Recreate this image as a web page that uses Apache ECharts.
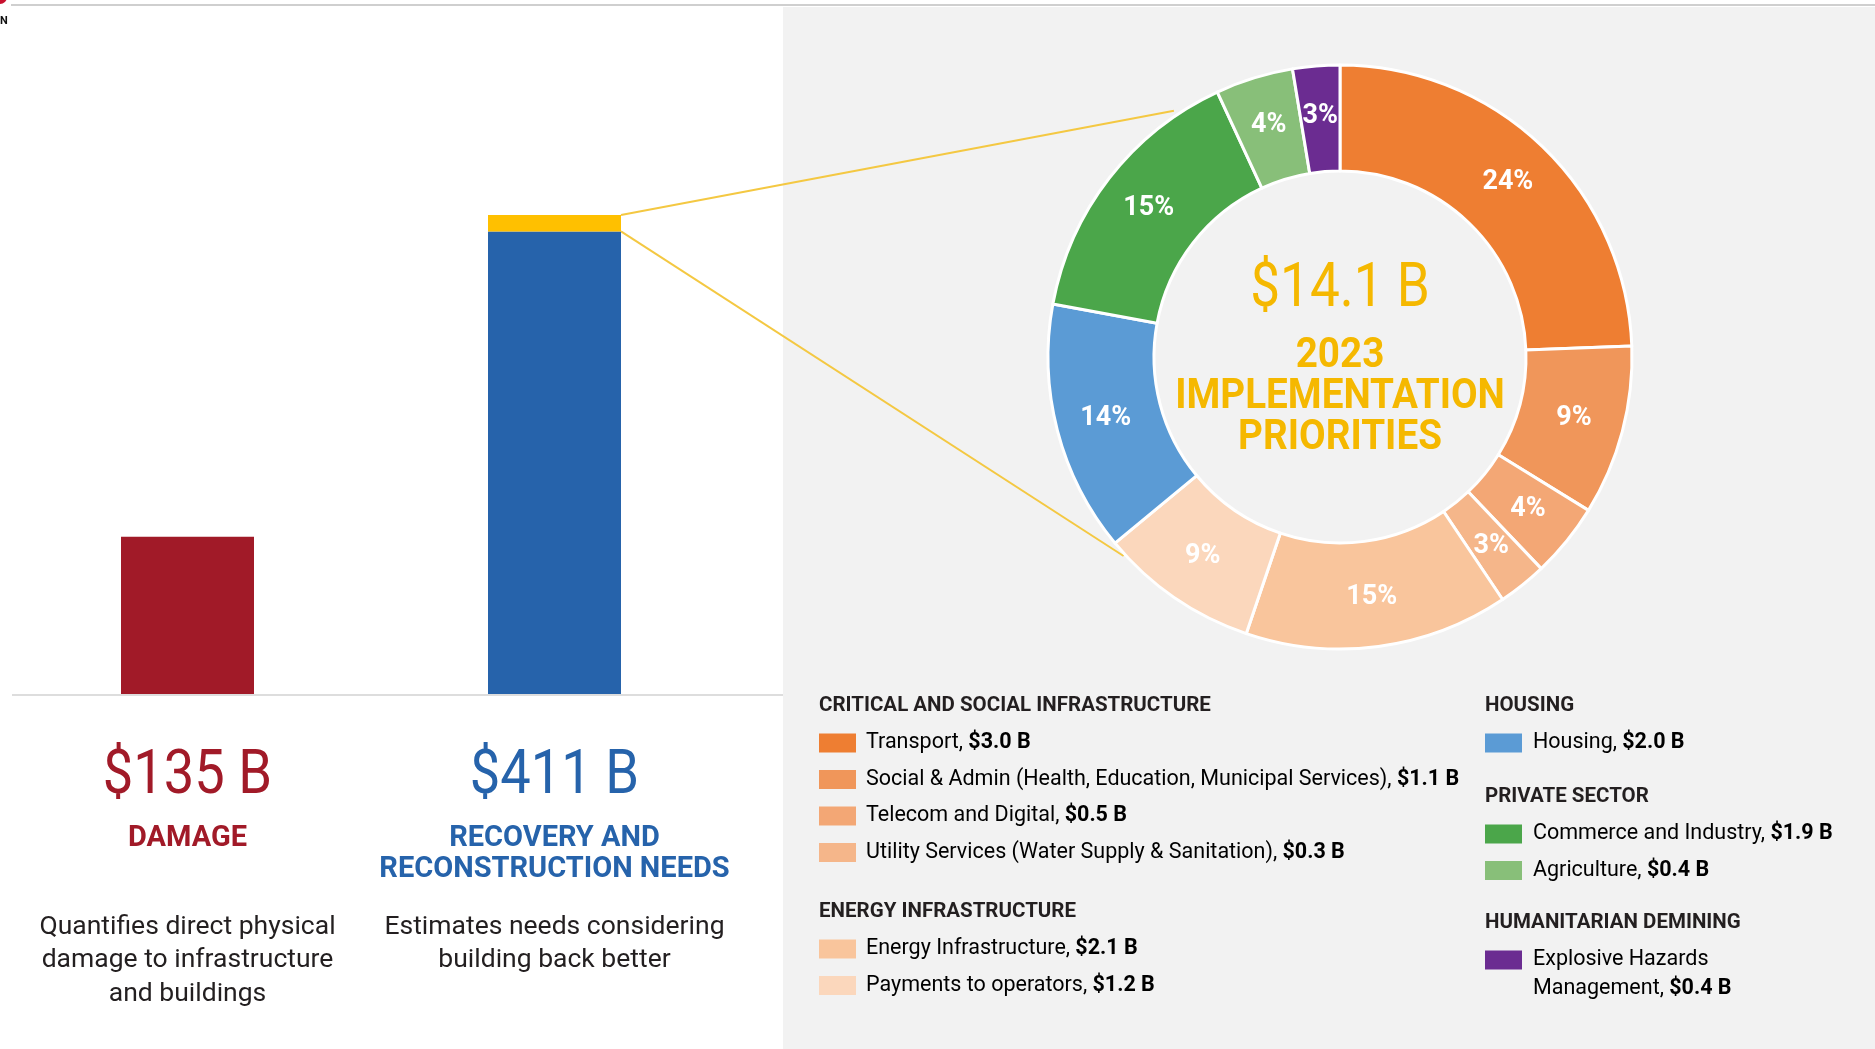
<!DOCTYPE html>
<html>
<head>
<meta charset="utf-8">
<script src="https://cdn.jsdelivr.net/npm/echarts@6/dist/echarts.min.js"></script>
<style>
  html, body { margin: 0; padding: 0; background: #fff; }
  #main { width: 1875px; height: 1049px; }
</style>
</head>
<body>
<div id="main"></div>
<script>
// ---- data ----
const barCategories = ['Damage', 'Recovery and Reconstruction Needs'];
const barValues = [135, 411];
const barCaptions = [['DAMAGE'], ['RECOVERY AND', 'RECONSTRUCTION NEEDS']];
const barNotes = [
    ['Quantifies direct physical', 'damage to infrastructure', 'and buildings'],
    ['Estimates needs considering', 'building back better']
];
const priorityTotal = 14.1;
const priorityTitle = ['2023', 'IMPLEMENTATION', 'PRIORITIES'];

const sliceNames = [
    'Transport',
    'Social & Admin (Health, Education, Municipal Services)',
    'Telecom and Digital',
    'Utility Services (Water Supply & Sanitation)',
    'Energy Infrastructure',
    'Payments to operators',
    'Housing',
    'Commerce and Industry',
    'Agriculture',
    'Explosive Hazards\nManagement'
];
// shares (%); labels show them rounded
const sliceShares = [24.4, 9.4, 4.1, 2.7, 14.6, 8.8, 13.9, 15.2, 4.3, 2.6];
const sliceAmounts = [3.0, 1.1, 0.5, 0.3, 2.1, 1.2, 2.0, 1.9, 0.4, 0.4];
const sliceGroups = [
    'CRITICAL AND SOCIAL INFRASTRUCTURE', 'CRITICAL AND SOCIAL INFRASTRUCTURE',
    'CRITICAL AND SOCIAL INFRASTRUCTURE', 'CRITICAL AND SOCIAL INFRASTRUCTURE',
    'ENERGY INFRASTRUCTURE', 'ENERGY INFRASTRUCTURE',
    'HOUSING',
    'PRIVATE SECTOR', 'PRIVATE SECTOR',
    'HUMANITARIAN DEMINING'
];

// ---- styles ----
const palette = ['#EE7E32', '#F0965A', '#F3A775', '#F5B68A', '#F9C59C', '#FBD7BC',
                 '#5B9BD5', '#4BA64A', '#88BF79', '#6B2C91'];
const RED = '#A11A28', BLUE = '#2663AB', YELLOW = '#FFC000', GOLD = '#F5B800';
const DARK = '#231F20';
const FONT = 'Roboto, "Noto Sans", sans-serif';

// ---- layout ----
const PANEL_X = 783;
const PIE_CENTER = [1340, 357];
const PIE_RADIUS = [186, 292];
const BAR_WIDTH = 133;
const connectorEnds = [{ angle: 326, r: 297 }, { angle: 227.4, r: 294 }];
const groupLayout = {
    'CRITICAL AND SOCIAL INFRASTRUCTURE': { col: 0, y: 706 },
    'ENERGY INFRASTRUCTURE': { col: 0, y: 912 },
    'HOUSING': { col: 1, y: 706 },
    'PRIVATE SECTOR': { col: 1, y: 797 },
    'HUMANITARIAN DEMINING': { col: 1, y: 923 }
};
const columns = [{ swatchX: 819, textX: 866 }, { swatchX: 1485, textX: 1533 }];

const chart = echarts.init(document.getElementById('main'));

chart.setOption({
    animation: false,
    backgroundColor: '#fff',
    grid: { left: 4, width: 734, top: 215, bottom: 355 },
    xAxis: { type: 'category', data: barCategories, show: false },
    yAxis: { type: 'value', min: 0, max: barValues[1], show: false },
    series: [
        {
            type: 'bar', stack: 'total', barWidth: BAR_WIDTH, silent: true,
            data: [
                { value: barValues[0], itemStyle: { color: RED } },
                { value: +(barValues[1] - priorityTotal).toFixed(1), itemStyle: { color: BLUE } }
            ]
        },
        {
            type: 'bar', stack: 'total', barWidth: BAR_WIDTH, silent: true,
            data: ['-', priorityTotal],
            itemStyle: { color: YELLOW }
        },
        {
            type: 'pie', center: PIE_CENTER, radius: PIE_RADIUS,
            startAngle: 90, clockwise: true, silent: true, z: 5,
            itemStyle: { borderColor: '#fff', borderWidth: 3 },
            label: {
                position: 'inside', color: '#fff',
                formatter: (p) => Math.round(p.value) + '%',
                fontFamily: FONT, fontWeight: 'bold', fontSize: 27
            },
            labelLine: { show: false },
            data: sliceNames.map((n, i) => ({ name: n, value: sliceShares[i], itemStyle: { color: palette[i] } }))
        }
    ]
});

// positions from the library's scales
const barTopPx = chart.convertToPixel({ gridIndex: 0 }, [1, barValues[1]]);
const yellowBottomPx = chart.convertToPixel({ gridIndex: 0 }, [1, barValues[1] - priorityTotal]);
const basePx = chart.convertToPixel({ gridIndex: 0 }, [0, 0]);
const barX = barCategories.map((c, i) => chart.convertToPixel({ gridIndex: 0 }, [i, 0])[0]);

function piePoint(angle, r) {
    const a = angle * Math.PI / 180;
    return [PIE_CENTER[0] + r * Math.sin(a), PIE_CENTER[1] - r * Math.cos(a)];
}

// condensed-looking text: tall font squeezed horizontally
function squeezed(text, x, y, font, fill, sx, z) {
    return {
        type: 'text', x: x, y: y, scaleX: sx, z: z || 0,
        style: { text: text, x: 0, y: 0, align: 'center', verticalAlign: 'middle', fill: fill, font: font }
    };
}

const g = [];
// background panels
g.push({ type: 'rect', z: -10, shape: { x: PANEL_X, y: 7, width: 1875 - PANEL_X, height: 1042 }, style: { fill: '#F2F2F2' } });
g.push({ type: 'line', z: -5, shape: { x1: 11, y1: 5, x2: 1875, y2: 5 }, style: { stroke: '#CFCFCF', lineWidth: 2 } });
g.push({ type: 'circle', z: -5, shape: { cx: 0, cy: -3, r: 7 }, style: { fill: '#C8102E' } });
g.push({ type: 'text', z: -5, style: { text: 'N', x: 0, y: 21, fill: '#111', font: 'bold 11px ' + FONT, verticalAlign: 'middle' } });
// baseline
g.push({ type: 'line', z: -5, shape: { x1: 12, y1: basePx[1] + 1, x2: PANEL_X, y2: basePx[1] + 1 }, style: { stroke: '#DDDDDD', lineWidth: 2 } });

// connectors from the yellow slice of the bar to the donut
const barRight = barTopPx[0] + BAR_WIDTH / 2;
[barTopPx[1], yellowBottomPx[1]].forEach((y, i) => {
    const p = piePoint(connectorEnds[i].angle, connectorEnds[i].r);
    g.push({ type: 'line', z: 1, shape: { x1: barRight, y1: y, x2: p[0], y2: p[1] }, style: { stroke: '#F4C842', lineWidth: 2 } });
});

// bar texts
const barColors = [RED, BLUE];
barValues.forEach((v, i) => {
    const x = barX[i];
    g.push(squeezed('$' + v + ' B', x, 778, '61px ' + FONT, barColors[i], 0.89));
    barCaptions[i].forEach((t, j) => {
        g.push(squeezed(t, x, 839 + j * 31, 'bold 29px ' + FONT, barColors[i], 1));
    });
    barNotes[i].forEach((t, j) => {
        g.push(squeezed(t, x, 927 + j * 33.5, '26.5px ' + FONT, DARK, 1));
    });
});

// donut centre
g.push(squeezed('$' + priorityTotal + ' B', PIE_CENTER[0], 291, '61px ' + FONT, GOLD, 0.87, 6));
priorityTitle.forEach((t, j) => {
    g.push(squeezed(t, PIE_CENTER[0], 356 + j * 41, 'bold 42px ' + FONT, GOLD, 0.92, 6));
});

// grouped legend
const seen = {};
sliceNames.forEach((name, i) => {
    const grp = sliceGroups[i];
    const lay = groupLayout[grp];
    const col = columns[lay.col];
    if (!seen[grp]) {
        seen[grp] = 0;
        g.push({ type: 'text', style: { text: grp, x: col.swatchX, y: lay.y, verticalAlign: 'middle', fill: DARK, font: 'bold 20.5px ' + FONT } });
    }
    const y = lay.y + 37 + seen[grp] * 36.5;
    seen[grp]++;
    g.push({ type: 'rect', shape: { x: col.swatchX, y: y - 9.5, width: 37, height: 19 }, style: { fill: palette[i] } });
    g.push({
        type: 'text',
        style: {
            text: '{n|' + name + ', }{v|$' + sliceAmounts[i].toFixed(1) + ' B}',
            x: col.textX, y: y - 14.5, verticalAlign: 'top',
            rich: {
                n: { fontFamily: FONT, fontSize: 21.5, color: '#3A3A3A', lineHeight: 29 },
                v: { fontFamily: FONT, fontSize: 21.5, fontWeight: 'bold', color: DARK, lineHeight: 29 }
            }
        }
    });
});

chart.setOption({ graphic: { elements: g } });
</script>
</body>
</html>
